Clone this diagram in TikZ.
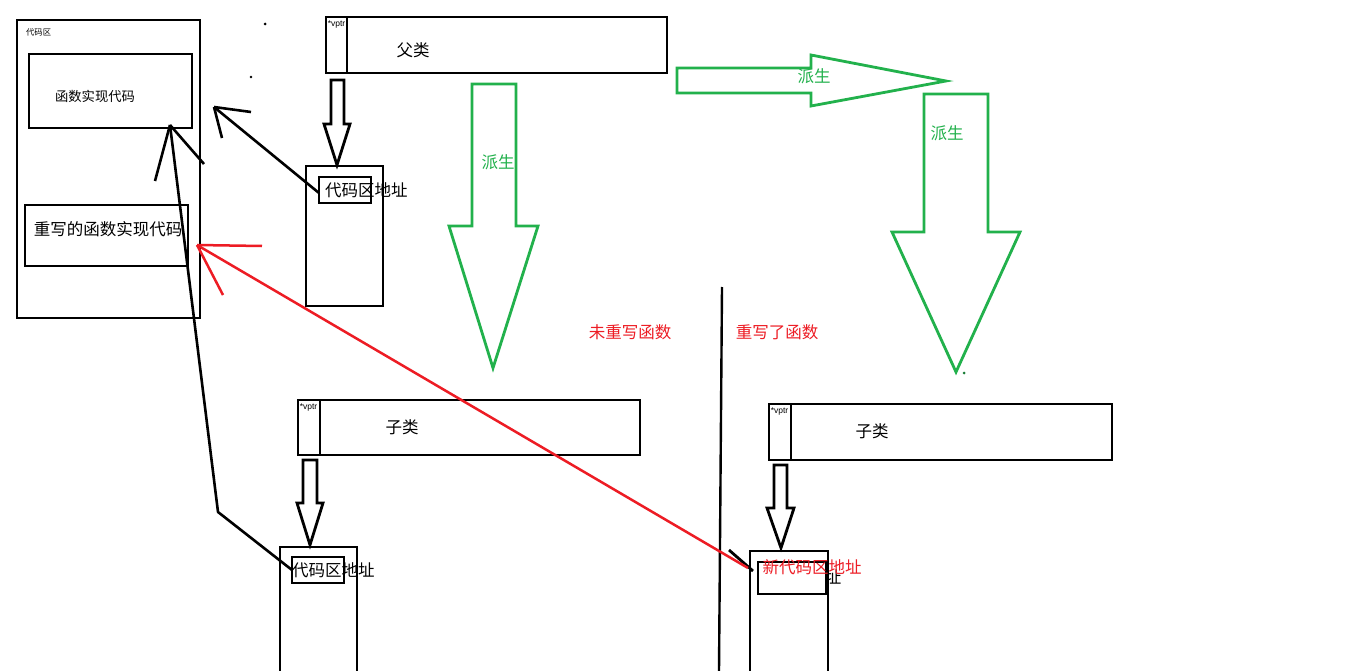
\documentclass[tikz,border=0pt]{standalone}
\usepackage{fontspec}
\setmainfont{Liberation Sans}
\newfontfamily\cjk{Noto Sans CJK SC}
\usetikzlibrary{fit,calc}
\definecolor{pgreen}{RGB}{34,177,76}
\definecolor{pred}{RGB}{237,28,36}
\tikzset{
  box/.style={draw,line width=2.9pt,inner sep=0pt,outer sep=0pt},
  big/.style={font=\cjk\fontsize{16.5}{16.5}\selectfont,inner sep=0pt},
  mid/.style={font=\cjk\fontsize{13.3}{13.3}\selectfont,inner sep=0pt},
  tiny/.style={font=\cjk\fontsize{8.3}{8.3}\selectfont,inner sep=0pt},
  vp/.style={font=\fontsize{8.5}{8.5}\selectfont,inner sep=0pt,anchor=north west},
  blk/.style={line width=2.8pt},
  gline/.style={draw=pgreen,line width=2.8pt,line join=miter},
  gtext/.style={big,text=pgreen},
  rtext/.style={big,text=pred},
  rline/.style={draw=pred,line width=2.5pt},
  conn/.style={line width=2.6pt}
}
\begin{document}
\begin{tikzpicture}[x=1pt,y=-1pt]
\useasboundingbox[fill=white] (0,0) rectangle (1349,671);

% code area
\node[box,fit={(17,20)(200,318)}] (code) {};
\node[tiny,anchor=west] (codelbl) at (26,32) {代码区};
\node[box,fit={(29,54)(192,128)}] (impl) {};
\node[mid] (impltxt) at (95,96) {函数实现代码};
\node[box,fit={(25,205)(188,266)}] (over) {};
\node[big] (overtxt) at (108,229) {重写的函数实现代码};

% dots
\fill (265,24) circle (1.5);
\fill (251,77) circle (1.3);
\fill[pgreen!70!black] (964,373) circle (1.5);

% parent class
\node[box,fit={(326,17)(347,73)}] (pvptr) {};
\node[box,fit={(347,17)(667,73)}] (parent) {};
\node[vp] (pvptrtxt) at (327.6,20) {*vptr};
\node[big] (parenttxt) at (413,50) {父类};
\draw[blk,line join=miter] (331,80)--(344,80)--(344,124)--(350,124)--(337,165)--(324,124)--(331,124)--cycle;
\node[box,fit={(306,166)(383,306)}] (ptable) {};
\node[box,fit={(319,177)(371,203)}] (pin) {};
\node[big,anchor=west] (pintxt) at (325,190) {代码区地址};

% child class 1
\node[box,fit={(298,400)(320,455)}] (c1vptr) {};
\node[box,fit={(320,400)(640,455)}] (child1) {};
\node[vp] (c1vptrtxt) at (299.6,403) {*vptr};
\node[big] (child1txt) at (402,427) {子类};
\draw[blk,line join=miter] (303,460)--(317,460)--(317,503)--(323,503)--(310,545)--(297,503)--(303,503)--cycle;
\node[box,fit={(280,547)(357,690)}] (c1table) {};
\node[box,fit={(292,557)(344,583)}] (c1in) {};
\node[big,anchor=west] (c1intxt) at (292,570) {代码区地址};

% child class 2
\node[box,fit={(769,404)(791,460)}] (c2vptr) {};
\node[box,fit={(791,404)(1112,460)}] (child2) {};
\node[vp] (c2vptrtxt) at (770.6,407) {*vptr};
\node[big] (child2txt) at (872,431) {子类};
\draw[blk,line join=miter] (774,465)--(787,465)--(787,508)--(794,508)--(781,548)--(767,508)--(774,508)--cycle;
\node[box,fit={(750,551)(828,690)}] (c2table) {};
\node[big] (c2old) at (833,577) {址};
\node[box,fit={(758,562)(826,594)}] (c2in) {};
\draw[blk] (729,550)--(753,571);

% divider
\draw[line width=2.4pt] (722,287)--(719,671);

% green derive arrows
\draw[gline] (472,84)--(516,84)--(516,226)--(538,226)--(493,368)--(449,226)--(472,226)--cycle;
\node[gtext] (d1) at (498,162) {派生};
\draw[gline] (677,68)--(811,68)--(811,55)--(946,81)--(811,106)--(811,93)--(677,93)--cycle;
\node[gtext] (d2) at (814,76) {派生};
\draw[gline] (924,94)--(988,94)--(988,232)--(1020,232)--(956,372)--(892,232)--(924,232)--cycle;
\node[gtext] (d3) at (947,133) {派生};

% labels
\node[rtext] (notover) at (630,332) {未重写函数};
\node[rtext] (overd) at (777,332) {重写了函数};

% black connectors
\coordinate (t1) at (214,107);
\draw[conn] ($(pin.west)+(0,3)$) -- (t1);
\draw[conn] (t1) -- (251,112);
\draw[conn] (t1) -- (222,138);

\coordinate (t2) at (170,125);
\coordinate (bend) at (218,512);
\draw[conn,line join=round] (c1in.west) -- (bend) -- (t2);
\draw[conn] (t2) -- (155,181);
\draw[conn] (t2) -- (204,164);

% red connector
\coordinate (t3) at (197,245);
\draw[rline] (748,568) -- (t3);
\draw[rline] (t3) -- (262,246);
\draw[rline] (t3) -- (223,295);
\node[rtext] (newaddr) at (812,567) {新代码区地址};
\end{tikzpicture}
\end{document}
